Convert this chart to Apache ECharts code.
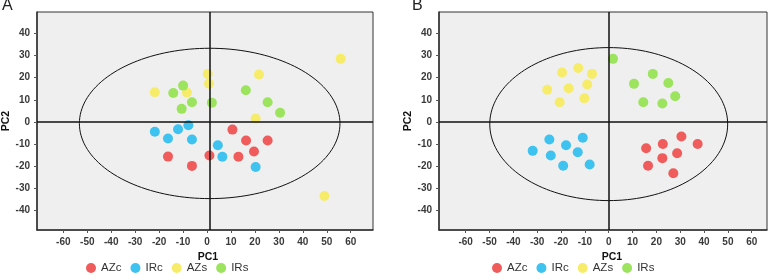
<!DOCTYPE html>
<html>
<head>
<meta charset="utf-8">
<script src="https://cdn.jsdelivr.net/npm/echarts@6.0.0/dist/echarts.min.js"></script>
<style>
  html, body { margin: 0; padding: 0; background: #fff; }
  #main { width: 777px; height: 276px; }
</style>
</head>
<body>
<div id="main"></div>
<script>
// tick labels
const xTicks = [-60, -50, -40, -30, -20, -10, 0, 10, 20, 30, 40, 50, 60]
const yTicks = [-40, -30, -20, -10, 0, 10, 20, 30, 40]
const groups = ['AZc', 'IRc', 'AZs', 'IRs']
const colors = ['#f05b5b', '#3ec2f0', '#f6ec6a', '#9ce35e']

// panel A scores [PC1, PC2]
const azcA = [[10.6, -3.5], [16.3, -8.4], [25.3, -8.4], [19.6, -13.4], [13.1, -15.8], [1.0, -15.2], [-16.3, -15.7], [-6.3, -19.9]]
const ircA = [[-7.8, -1.5], [-12.1, -3.3], [-21.8, -4.5], [-16.3, -7.5], [-6.3, -8.0], [4.5, -10.6], [6.4, -15.8], [20.3, -20.4]]
const azsA = [[0.3, 21.7], [0.8, 17.3], [21.7, 21.4], [-21.8, 13.4], [-8.4, 13.3], [20.3, 1.5], [55.8, 28.5], [49.0, -33.5]]
const irsA = [[-10.0, 16.4], [-14.1, 13.1], [-6.3, 8.9], [2.0, 8.7], [-10.6, 5.9], [16.2, 14.3], [25.3, 8.9], [30.5, 4.1]]

// panel B scores [PC1, PC2]
const azcB = [[30.5, -6.6], [37.3, -10.0], [22.7, -10.0], [15.7, -11.9], [28.7, -14.2], [22.5, -16.4], [16.5, -19.8], [27.1, -23.2]]
const ircB = [[-24.9, -8.0], [-10.9, -7.2], [-17.9, -10.6], [-31.9, -13.1], [-24.3, -15.2], [-13.0, -13.7], [-19.1, -19.8], [-8.0, -19.3]]
const azsB = [[-19.6, 22.3], [-12.8, 24.4], [-7.0, 21.7], [-25.8, 14.5], [-16.8, 15.2], [-9.0, 16.9], [-20.6, 8.9], [-10.2, 10.7]]
const irsB = [[1.8, 28.5], [18.5, 21.7], [10.6, 17.2], [25.0, 17.6], [27.9, 11.6], [14.5, 8.9], [22.5, 8.3]]

// ellipse [centre PC1, centre PC2, radius PC1, radius PC2]
const ellipseA = [1.1, -0.7, 54.4, 34.0]
const ellipseB = [0.0, -1.0, 49.9, 34.6]
// vertical reference line position
const vlineA = 1.1
const vlineB = 0

const font = '"Liberation Sans", Arial, sans-serif'
let myChart = echarts.init(document.getElementById('main'))

function xAxisFor(idx, min, max, namePad) {
  return {
    type: 'value', gridIndex: idx, min: min, max: max,
    name: 'PC1', nameLocation: 'middle', nameGap: 19,
    nameTextStyle: { fontFamily: font, fontWeight: 'bold', fontSize: 10.5, color: '#111', padding: [0, 0, 0, namePad] },
    axisLine: { show: true, onZero: false, lineStyle: { color: '#333', width: 1.5 } },
    axisTick: { show: true, length: 3, customValues: xTicks, lineStyle: { color: '#555' } },
    axisLabel: { customValues: xTicks, fontFamily: font, fontSize: 10, fontWeight: 'bold', color: '#3a3a3a', margin: 7 },
    splitLine: { show: false }
  }
}

function yAxisFor(idx, gap) {
  return {
    type: 'value', gridIndex: idx, min: -48.9, max: 49.7,
    name: 'PC2', nameLocation: 'middle', nameGap: gap,
    nameTextStyle: { fontFamily: font, fontWeight: 'bold', fontSize: 10.5, color: '#111' },
    axisLine: { show: true, onZero: false, lineStyle: { color: '#333', width: 1.5 } },
    axisTick: { show: true, length: 3, customValues: yTicks, lineStyle: { color: '#555' } },
    axisLabel: { customValues: yTicks, fontFamily: font, fontSize: 10, fontWeight: 'bold', color: '#3a3a3a', margin: 7 },
    splitLine: { show: false }
  }
}

function ellipseSeries(idx, e) {
  return {
    type: 'custom', xAxisIndex: idx, yAxisIndex: idx,
    data: [e], silent: true, z: 1,
    encode: { x: 0, y: 1 },
    renderItem: function (params, api) {
      let c = api.coord([api.value(0), api.value(1)])
      let s = api.size([api.value(2), api.value(3)])
      let pts = []
      for (let i = 0; i <= 160; i++) {
        let t = i / 160 * Math.PI * 2
        pts.push([c[0] + s[0] * Math.cos(t), c[1] + s[1] * Math.sin(t)])
      }
      return { type: 'polyline', shape: { points: pts }, style: { stroke: '#111', lineWidth: 1, fill: null } }
    }
  }
}

function pointSeries(idx, sets, vline) {
  return sets.map(function (d, i) {
    let s = {
      name: groups[i], type: 'scatter', xAxisIndex: idx, yAxisIndex: idx,
      data: d, symbolSize: 10, z: 3,
      itemStyle: { color: colors[i], opacity: 1 }
    }
    if (i === 0) {
      s.markLine = {
        silent: true, symbol: 'none', label: { show: false }, animation: false,
        lineStyle: { color: '#111', width: 1.5, type: 'solid' },
        data: [{ xAxis: vline }, { yAxis: 0 }]
      }
    }
    return s
  })
}

function legendFor(left) {
  return {
    data: groups, left: left, top: 262, padding: 0, orient: 'horizontal',
    icon: 'circle', itemWidth: 10, itemHeight: 10, itemGap: 9,
    textStyle: { fontFamily: font, fontSize: 11.5, color: '#333' }
  }
}

let gridBase = { top: 12, height: 218, show: true, backgroundColor: '#efefef', borderColor: '#333', borderWidth: 1, outerBoundsMode: 'none' }

let option = {
  animation: false,
  grid: [
    Object.assign({ left: 37, width: 336 }, gridBase),
    Object.assign({ left: 439, width: 328 }, gridBase)
  ],
  xAxis: [xAxisFor(0, -71, 69.3, 6), xAxisFor(1, -71.2, 66.4, 18)],
  yAxis: [yAxisFor(0, 22), yAxisFor(1, 16)],
  legend: [legendFor(86), legendFor(492)],
  graphic: [
    { type: 'text', left: 2, top: -2, style: { text: 'A', fontFamily: font, fontSize: 16, fill: '#222' } },
    { type: 'text', left: 412, top: -2, style: { text: 'B', fontFamily: font, fontSize: 16, fill: '#222' } }
  ],
  series: [ellipseSeries(0, ellipseA), ellipseSeries(1, ellipseB)]
    .concat(pointSeries(0, [azcA, ircA, azsA, irsA], vlineA))
    .concat(pointSeries(1, [azcB, ircB, azsB, irsB], vlineB))
}

myChart.setOption(option)
</script>
</body>
</html>
